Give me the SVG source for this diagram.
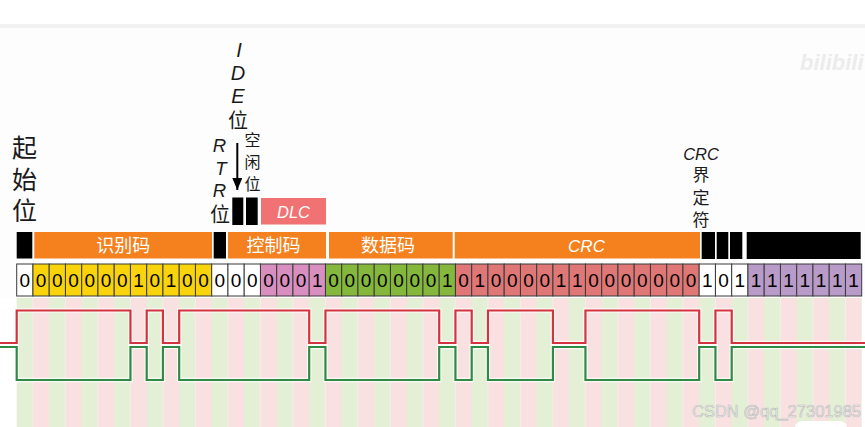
<svg xmlns="http://www.w3.org/2000/svg" width="865" height="427" viewBox="0 0 865 427">
<defs>
<style>
.cjk{font-family:"Noto Sans CJK SC","Noto Sans",sans-serif;}
.lat{font-family:"Liberation Sans",Arial,sans-serif;}
.it{font-family:"Liberation Sans",Arial,sans-serif;font-style:italic;}
.lbl{fill:#1a1a1a;text-anchor:middle;}
.bar{fill:#f5801e;}
.blk{fill:#000;}
.bartxt{fill:#fff;text-anchor:middle;font-size:18px;}
.cell{stroke:#3a3a3a;stroke-width:1;}
.w{fill:#ffffff;}
.y{fill:#f9d30c;}
.p{fill:#d98ec0;}
.g{fill:#84b73c;}
.r{fill:#df7777;}
.v{fill:#b89bc9;}
.bits text{font-family:"Liberation Sans",Arial,sans-serif;font-size:19px;fill:#000;text-anchor:middle;}
.halo{fill:none;stroke:#ffffff;stroke-opacity:0.75;stroke-width:4.5;}
.canh{fill:none;stroke:#d3323f;stroke-width:2.2;}
.canl{fill:none;stroke:#2f8a46;stroke-width:2.2;}
</style>
<pattern id="stripes" x="16.7" y="0" width="32.5" height="427" patternUnits="userSpaceOnUse">
<rect x="0" y="0" width="16.25" height="427" fill="#e4f0d5"/>
<rect x="16.25" y="0" width="16.25" height="427" fill="#f9e1e1"/>
</pattern>
<marker id="ah" markerWidth="12" markerHeight="10" refX="12" refY="5" orient="auto" markerUnits="userSpaceOnUse">
<path d="M0,0 L12,5 L0,10 Z" fill="#000"/>
</marker>
</defs>

<rect x="0" y="0" width="865" height="427" fill="#ffffff"/>
<rect x="0" y="24" width="865" height="4" fill="#f2f2f2"/>
<rect x="0" y="28" width="865" height="270" fill="#fdfdfd"/>

<!-- watermark -->
<g id="watermark-top">
<text x="800" y="70" class="lat" font-size="22" font-weight="bold" font-style="italic" fill="#ececec">bilibili</text>
</g>

<!-- background timing stripes -->
<rect x="16.7" y="298" width="845" height="129" fill="url(#stripes)"/>

<!-- labels -->
<g id="label-sof" class="cjk lbl" font-size="25">
<text x="24.5" y="157">起</text>
<text x="24.5" y="189">始</text>
<text x="24.5" y="220">位</text>
</g>
<g id="label-ide" class="lbl">
<text class="it" x="239" y="57" font-size="20">I</text>
<text class="it" x="238" y="80" font-size="20">D</text>
<text class="it" x="238" y="103" font-size="20">E</text>
<text class="cjk" x="238" y="128" font-size="20">位</text>
</g>
<g id="label-rtr" class="lbl">
<text class="it" x="219.5" y="152" font-size="18.5">R</text>
<text class="it" x="221" y="175" font-size="18.5">T</text>
<text class="it" x="219.5" y="197" font-size="18.5">R</text>
<text class="cjk" x="220" y="222" font-size="20">位</text>
</g>
<g id="label-r0" class="cjk lbl" font-size="16">
<text x="252.5" y="146">空</text>
<text x="252.5" y="168">闲</text>
<text x="252.5" y="190">位</text>
</g>
<g id="label-crc-delim" class="lbl">
<text class="it" x="701" y="160" font-size="16.5">CRC</text>
<text class="cjk" x="701" y="181" font-size="17">界</text>
<text class="cjk" x="701" y="204" font-size="17">定</text>
<text class="cjk" x="701" y="226" font-size="17">符</text>
</g>

<!-- connectors -->
<g id="connectors">
<line x1="237.3" y1="143" x2="237.3" y2="190" stroke="#000" stroke-width="2" marker-end="url(#ah)"/>
</g>

<!-- upper small boxes -->
<g id="node-ide-box"><rect class="blk" x="232.3" y="197.5" width="11" height="27.5"/></g>
<g id="node-r0-box"><rect class="blk" x="246" y="197.5" width="11.7" height="27.5"/></g>
<g id="node-dlc">
<rect x="261" y="198" width="65" height="26.5" fill="#f07272"/>
<text class="it" x="293.5" y="218" font-size="16.5" fill="#fff" text-anchor="middle">DLC</text>
</g>

<!-- field bars -->
<g id="node-sof-bar"><rect class="blk" x="16.7" y="232" width="15.6" height="26.5"/></g>
<g id="node-id-bar">
<rect class="bar" x="34.3" y="232" width="177.7" height="26.5"/>
<text class="cjk bartxt" x="123.3" y="252">识别码</text>
</g>
<g id="node-rtr-bar"><rect class="blk" x="213.7" y="232" width="12.3" height="26.5"/></g>
<g id="node-ctrl-bar">
<rect class="bar" x="228" y="232" width="98" height="26.5"/>
<text class="cjk bartxt" x="273.5" y="252">控制码</text>
</g>
<g id="node-data-bar">
<rect class="bar" x="329" y="232" width="123.7" height="26.5"/>
<text class="cjk bartxt" x="388" y="252">数据码</text>
</g>
<g id="node-crc-bar">
<rect class="bar" x="454.7" y="232" width="245.3" height="26.5"/>
<text class="it" x="586.5" y="252" font-size="17" fill="#fff" text-anchor="middle">CRC</text>
</g>
<g id="node-crcdelim-bar"><rect class="blk" x="701.7" y="232" width="13.3" height="27"/></g>
<g id="node-ack-bar"><rect class="blk" x="716.7" y="232" width="11.6" height="27"/></g>
<g id="node-ackdelim-bar"><rect class="blk" x="730" y="232" width="12.3" height="27"/></g>
<g id="node-eof-bar"><rect class="blk" x="746.7" y="232" width="114" height="27"/></g>

<!-- bit cells -->
<g id="bits" class="bits">
<rect class="cell w" x="16.7" y="264" width="16.25" height="32"/>
<rect class="cell y" x="32.95" y="264" width="16.25" height="32"/>
<rect class="cell y" x="49.2" y="264" width="16.25" height="32"/>
<rect class="cell y" x="65.45" y="264" width="16.25" height="32"/>
<rect class="cell y" x="81.7" y="264" width="16.25" height="32"/>
<rect class="cell y" x="97.95" y="264" width="16.25" height="32"/>
<rect class="cell y" x="114.2" y="264" width="16.25" height="32"/>
<rect class="cell y" x="130.45" y="264" width="16.25" height="32"/>
<rect class="cell y" x="146.7" y="264" width="16.25" height="32"/>
<rect class="cell y" x="162.95" y="264" width="16.25" height="32"/>
<rect class="cell y" x="179.2" y="264" width="16.25" height="32"/>
<rect class="cell y" x="195.45" y="264" width="16.25" height="32"/>
<rect class="cell w" x="211.7" y="264" width="16.25" height="32"/>
<rect class="cell w" x="227.95" y="264" width="16.25" height="32"/>
<rect class="cell w" x="244.2" y="264" width="16.25" height="32"/>
<rect class="cell p" x="260.45" y="264" width="16.25" height="32"/>
<rect class="cell p" x="276.7" y="264" width="16.25" height="32"/>
<rect class="cell p" x="292.95" y="264" width="16.25" height="32"/>
<rect class="cell p" x="309.2" y="264" width="16.25" height="32"/>
<rect class="cell g" x="325.45" y="264" width="16.25" height="32"/>
<rect class="cell g" x="341.7" y="264" width="16.25" height="32"/>
<rect class="cell g" x="357.95" y="264" width="16.25" height="32"/>
<rect class="cell g" x="374.2" y="264" width="16.25" height="32"/>
<rect class="cell g" x="390.45" y="264" width="16.25" height="32"/>
<rect class="cell g" x="406.7" y="264" width="16.25" height="32"/>
<rect class="cell g" x="422.95" y="264" width="16.25" height="32"/>
<rect class="cell g" x="439.2" y="264" width="16.25" height="32"/>
<rect class="cell r" x="455.45" y="264" width="16.25" height="32"/>
<rect class="cell r" x="471.7" y="264" width="16.25" height="32"/>
<rect class="cell r" x="487.95" y="264" width="16.25" height="32"/>
<rect class="cell r" x="504.2" y="264" width="16.25" height="32"/>
<rect class="cell r" x="520.45" y="264" width="16.25" height="32"/>
<rect class="cell r" x="536.7" y="264" width="16.25" height="32"/>
<rect class="cell r" x="552.95" y="264" width="16.25" height="32"/>
<rect class="cell r" x="569.2" y="264" width="16.25" height="32"/>
<rect class="cell r" x="585.45" y="264" width="16.25" height="32"/>
<rect class="cell r" x="601.7" y="264" width="16.25" height="32"/>
<rect class="cell r" x="617.95" y="264" width="16.25" height="32"/>
<rect class="cell r" x="634.2" y="264" width="16.25" height="32"/>
<rect class="cell r" x="650.45" y="264" width="16.25" height="32"/>
<rect class="cell r" x="666.7" y="264" width="16.25" height="32"/>
<rect class="cell r" x="682.95" y="264" width="16.25" height="32"/>
<rect class="cell w" x="699.2" y="264" width="16.25" height="32"/>
<rect class="cell w" x="715.45" y="264" width="16.25" height="32"/>
<rect class="cell w" x="731.7" y="264" width="16.25" height="32"/>
<rect class="cell v" x="747.95" y="264" width="16.25" height="32"/>
<rect class="cell v" x="764.2" y="264" width="16.25" height="32"/>
<rect class="cell v" x="780.45" y="264" width="16.25" height="32"/>
<rect class="cell v" x="796.7" y="264" width="16.25" height="32"/>
<rect class="cell v" x="812.95" y="264" width="16.25" height="32"/>
<rect class="cell v" x="829.2" y="264" width="16.25" height="32"/>
<rect class="cell v" x="845.45" y="264" width="16.25" height="32"/>
<text x="24.83" y="287">0</text>
<text x="41.08" y="287">0</text>
<text x="57.33" y="287">0</text>
<text x="73.58" y="287">0</text>
<text x="89.83" y="287">0</text>
<text x="106.08" y="287">0</text>
<text x="122.33" y="287">0</text>
<text x="138.58" y="287">1</text>
<text x="154.83" y="287">0</text>
<text x="171.08" y="287">1</text>
<text x="187.33" y="287">0</text>
<text x="203.58" y="287">0</text>
<text x="219.83" y="287">0</text>
<text x="236.08" y="287">0</text>
<text x="252.33" y="287">0</text>
<text x="268.58" y="287">0</text>
<text x="284.83" y="287">0</text>
<text x="301.08" y="287">0</text>
<text x="317.33" y="287">1</text>
<text x="333.58" y="287">0</text>
<text x="349.83" y="287">0</text>
<text x="366.08" y="287">0</text>
<text x="382.33" y="287">0</text>
<text x="398.58" y="287">0</text>
<text x="414.83" y="287">0</text>
<text x="431.08" y="287">0</text>
<text x="447.33" y="287">1</text>
<text x="463.58" y="287">0</text>
<text x="479.83" y="287">1</text>
<text x="496.08" y="287">0</text>
<text x="512.33" y="287">0</text>
<text x="528.58" y="287">0</text>
<text x="544.83" y="287">0</text>
<text x="561.08" y="287">1</text>
<text x="577.33" y="287">1</text>
<text x="593.58" y="287">0</text>
<text x="609.83" y="287">0</text>
<text x="626.08" y="287">0</text>
<text x="642.33" y="287">0</text>
<text x="658.58" y="287">0</text>
<text x="674.83" y="287">0</text>
<text x="691.08" y="287">0</text>
<text x="707.33" y="287">1</text>
<text x="723.58" y="287">0</text>
<text x="739.83" y="287">1</text>
<text x="756.08" y="287">1</text>
<text x="772.33" y="287">1</text>
<text x="788.58" y="287">1</text>
<text x="804.83" y="287">1</text>
<text x="821.08" y="287">1</text>
<text x="837.33" y="287">1</text>
<text x="853.58" y="287">1</text>
</g>

<!-- waveforms -->
<g id="waveform">
<path class="halo" d="M0,343 H16.7 V310.5 H130.45 V343 H146.7 V310.5 H162.95 V343 H179.2 V310.5 H309.2 V343 H325.45 V310.5 H439.2 V343 H455.45 V310.5 H471.7 V343 H487.95 V310.5 H552.95 V343 H585.45 V310.5 H699.2 V343 H715.45 V310.5 H731.7 V343 H865"/>
<path class="halo" d="M0,347 H16.7 V380 H130.45 V347 H146.7 V380 H162.95 V347 H179.2 V380 H309.2 V347 H325.45 V380 H439.2 V347 H455.45 V380 H471.7 V347 H487.95 V380 H552.95 V347 H585.45 V380 H699.2 V347 H715.45 V380 H731.7 V347 H865"/>
<path id="can-h" class="canh" d="M0,343 H16.7 V310.5 H130.45 V343 H146.7 V310.5 H162.95 V343 H179.2 V310.5 H309.2 V343 H325.45 V310.5 H439.2 V343 H455.45 V310.5 H471.7 V343 H487.95 V310.5 H552.95 V343 H585.45 V310.5 H699.2 V343 H715.45 V310.5 H731.7 V343 H865"/>
<path id="can-l" class="canl" d="M0,347 H16.7 V380 H130.45 V347 H146.7 V380 H162.95 V347 H179.2 V380 H309.2 V347 H325.45 V380 H439.2 V347 H455.45 V380 H471.7 V347 H487.95 V380 H552.95 V347 H585.45 V380 H699.2 V347 H715.45 V380 H731.7 V347 H865"/>
</g>

<g id="watermark-bottom">
<text x="692" y="417" class="lat" font-size="16.5" fill="#ececec" stroke="#bdbdbd" stroke-width="0.6">CSDN @qq_27301985</text>
<rect x="795" y="421" width="52" height="14" rx="7" fill="#ffffff"/>
</g>
</svg>
